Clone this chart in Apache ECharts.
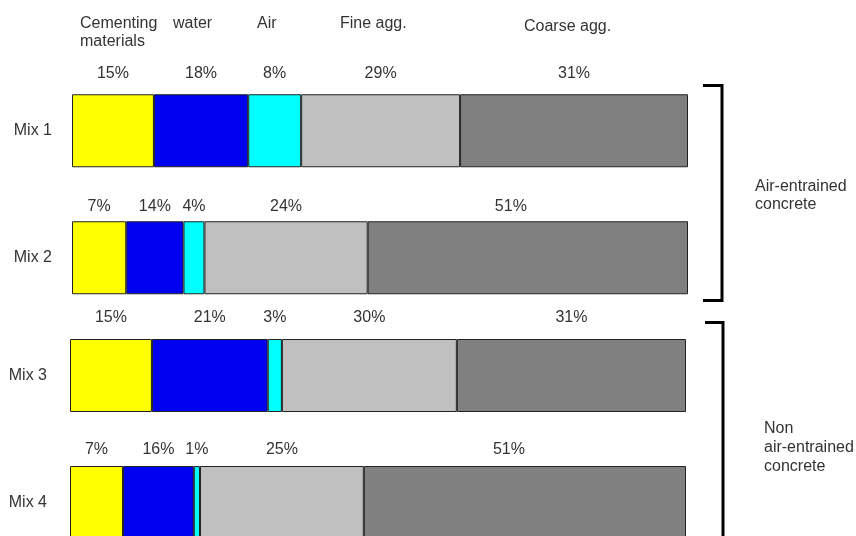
<!DOCTYPE html>
<html>
<head>
<meta charset="utf-8">
<script src="https://cdn.jsdelivr.net/npm/echarts@6/dist/echarts.min.js"></script>
<style>
html,body{margin:0;padding:0;background:#fff;overflow:hidden;width:856px;height:536px;}
#chart{width:856px;height:580px;}
</style>
</head>
<body>
<div id="chart"></div>
<script>
// ---- data ----
const categories = ['Mix 1', 'Mix 2', 'Mix 3', 'Mix 4'];
const components = ['Cementing materials', 'water', 'Air', 'Fine agg.', 'Coarse agg.'];
// segment lengths as drawn in the picture (share of bar length, %)
const cementing = [13.3, 8.8, 13.3, 8.6];
const water     = [15.3, 9.3, 18.8, 11.5];
const air       = [8.6, 3.4, 2.3, 1.0];
const fineAgg   = [25.8, 26.5, 28.4, 26.6];
const coarseAgg = [37.0, 52.0, 37.2, 52.3];
// printed percentages
const cementingPct = ['15%', '7%', '15%', '7%'];
const waterPct     = ['18%', '14%', '21%', '16%'];
const airPct       = ['8%', '4%', '3%', '1%'];
const finePct      = ['29%', '24%', '30%', '25%'];
const coarsePct    = ['31%', '51%', '31%', '51%'];
const headerLabels = ['Cementing\nmaterials', 'water', 'Air', 'Fine agg.', 'Coarse agg.'];
const groupLabels  = ['Air-entrained\nconcrete', 'Non\nair-entrained\nconcrete'];

// ---- styling / layout ----
const FONT = "'Liberation Sans', Arial, sans-serif";
const TXT = '#333';
const colors = ['#FFFF00', '#0000F0', '#00FFFF', '#C0C0C0', '#808080'];
const values = [cementing, water, air, fineAgg, coarseAgg];
const pcts = [cementingPct, waterPct, airPct, finePct, coarsePct];
const labelGap = [12.5, 6.7, 13, 8];
const coarseShift = [0, -17, 0, -16];

const grids = [
  {left: 72, width: 616, top: 67.25, height: 254},
  {left: 70, width: 616, top: 312, height: 254}
];
const groupIdx = [[0, 1], [2, 3]];

const series = [];
groupIdx.forEach((idx, g) => {
  values.forEach((arr, s) => {
    series.push({
      type: 'bar',
      name: components[s],
      xAxisIndex: g,
      yAxisIndex: g,
      stack: 'g' + g,
      barWidth: 73,
      itemStyle: {color: colors[s], borderColor: '#222', borderWidth: 1},
      label: {
        show: true, position: 'top', fontFamily: FONT, fontSize: 16, color: TXT
      },
      data: idx.map(i => ({
        value: arr[i],
        label: {
          distance: labelGap[i],
          offset: [s === 4 ? coarseShift[i] : 0, 0],
          formatter: pcts[s][i]
        }
      }))
    });
  });
});

const headerX = [80, 173, 257, 340, 524];
const headerY = [15, 15, 15, 15, 18];
const graphic = headerLabels.map((t, i) => ({
  type: 'text', left: headerX[i], top: headerY[i], silent: true,
  style: {text: t, font: '16px ' + FONT, fill: TXT, lineHeight: 18}
}));
graphic.push({
  type: 'text', left: 755, top: 178, silent: true,
  style: {text: groupLabels[0], font: '16px ' + FONT, fill: TXT, lineHeight: 18}
});
graphic.push({
  type: 'text', left: 764, top: 419.5, silent: true,
  style: {text: groupLabels[1], font: '16px ' + FONT, fill: TXT, lineHeight: 19}
});
graphic.push({
  type: 'polyline', silent: true,
  shape: {points: [[703, 85.5], [722, 85.5], [722, 300.5], [703, 300.5]]},
  style: {stroke: '#000', lineWidth: 3, fill: null}
});
graphic.push({
  type: 'polyline', silent: true,
  shape: {points: [[705, 322.5], [723, 322.5], [723, 575]]},
  style: {stroke: '#000', lineWidth: 3, fill: null}
});

const option = {
  animation: false,
  backgroundColor: '#fff',
  grid: grids,
  xAxis: grids.map((_, g) => ({gridIndex: g, type: 'value', min: 0, max: 100, show: false})),
  yAxis: groupIdx.map((idx, g) => ({
    gridIndex: g, type: 'category', inverse: true,
    data: idx.map(i => categories[i]),
    axisLine: {show: false}, axisTick: {show: false}, splitLine: {show: false},
    axisLabel: {margin: g === 0 ? 20 : 23, fontFamily: FONT, fontSize: 16, color: TXT}
  })),
  series: series,
  graphic: graphic
};

const chart = echarts.init(document.getElementById('chart'));
chart.setOption(option);
</script>
</body>
</html>
